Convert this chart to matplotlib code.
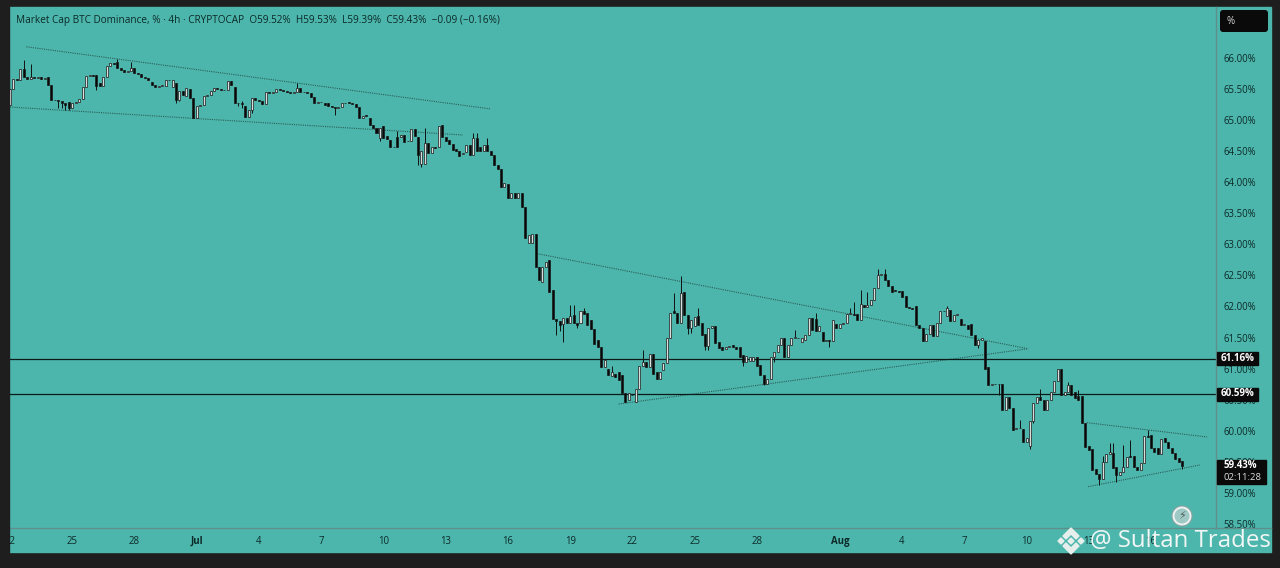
import matplotlib
matplotlib.use("Agg")
import matplotlib.pyplot as plt
from matplotlib.patches import Rectangle, Polygon, Circle, FancyBboxPatch

# values, one candle every 4h starting 22 Jun 00:00
opens = [
    65.24,65.50,65.66,65.65,65.83,65.69,65.66,65.70,65.68,65.70,
    65.66,65.70,65.57,65.33,65.32,65.30,65.28,65.29,65.20,65.28,
    65.29,65.34,65.54,65.71,65.72,65.73,65.60,65.55,65.69,65.87,
    65.92,65.93,65.84,65.80,65.77,65.79,65.84,65.75,65.74,65.70,
    65.68,65.62,65.56,65.54,65.55,65.55,65.64,65.53,65.59,65.33,
    65.47,65.38,65.50,65.35,65.03,65.22,65.24,65.39,65.40,65.47,
    65.51,65.50,65.49,65.48,65.63,65.54,65.27,65.28,65.23,65.05,
    65.17,65.35,65.32,65.30,65.26,65.46,65.43,65.46,65.50,65.48,
    65.47,65.45,65.43,65.46,65.52,65.46,65.46,65.43,65.37,65.27,
    65.29,65.28,65.27,65.23,65.21,65.19,65.21,65.28,65.29,65.27,
    65.26,65.21,65.03,65.08,65.04,64.92,64.88,64.71,64.90,64.75,
    64.68,64.57,64.72,64.72,64.76,64.67,64.67,64.85,64.73,64.30,
    64.30,64.63,64.47,64.56,64.56,64.92,64.73,64.68,64.62,64.54,
    64.50,64.46,64.49,64.60,64.44,64.71,64.57,64.50,64.60,64.51,
    64.44,64.28,64.22,63.92,63.97,63.74,63.82,63.74,63.82,63.60,
    63.02,63.02,63.17,62.64,62.40,62.64,62.75,62.26,61.80,61.76,
    61.72,61.81,61.73,61.86,61.73,61.73,61.92,61.89,61.78,61.64,
    61.46,61.35,61.02,61.00,60.88,60.92,60.94,60.90,60.60,60.50,
    60.58,60.47,60.68,61.04,61.11,61.02,61.24,60.95,60.83,60.97,
    61.09,61.50,61.92,61.89,61.74,62.24,61.86,61.65,61.68,61.84,
    61.73,61.56,61.36,61.65,61.69,61.43,61.34,61.31,61.35,61.38,
    61.34,61.34,61.22,61.11,61.13,61.13,61.18,61.06,60.90,60.75,
    60.84,61.18,61.27,61.38,61.50,61.19,61.38,61.49,61.50,61.43,
    61.46,61.54,61.81,61.80,61.60,61.59,61.45,61.46,61.45,61.72,
    61.66,61.72,61.73,61.88,61.88,61.88,61.79,62.02,61.99,62.02,
    62.11,62.29,62.50,62.53,62.43,62.33,62.26,62.25,62.25,62.17,
    61.99,61.97,62.00,61.70,61.65,61.45,61.56,61.70,61.52,61.73,
    61.92,61.85,61.95,61.77,61.86,61.80,61.70,61.70,61.72,61.54,
    61.38,61.46,61.45,61.02,60.73,60.76,60.75,60.76,60.33,60.55,
    60.36,60.03,60.04,60.03,59.82,59.75,60.16,60.44,60.55,60.49,
    60.33,60.49,60.63,60.80,61.00,60.58,60.62,60.73,60.63,60.56,
    60.56,60.13,59.75,59.70,59.39,59.31,59.23,59.50,59.62,59.65,
    59.41,59.29,59.33,59.41,59.60,59.60,59.41,59.37,59.48,59.92,
    59.93,59.72,59.73,59.63,59.88,59.82,59.73,59.64,59.56,59.52,
]
closes = [
    65.50,65.66,65.65,65.83,65.69,65.66,65.70,65.68,65.70,65.66,
    65.68,65.57,65.33,65.32,65.30,65.28,65.24,65.20,65.28,65.29,
    65.34,65.54,65.71,65.72,65.71,65.55,65.55,65.69,65.87,65.92,
    65.90,65.84,65.80,65.77,65.79,65.84,65.75,65.74,65.70,65.68,
    65.64,65.56,65.54,65.55,65.56,65.64,65.65,65.64,65.33,65.47,
    65.40,65.51,65.35,65.03,65.22,65.24,65.39,65.40,65.47,65.51,
    65.50,65.49,65.48,65.63,65.57,65.27,65.28,65.26,65.05,65.17,
    65.35,65.32,65.30,65.26,65.46,65.43,65.46,65.50,65.48,65.47,
    65.45,65.43,65.46,65.52,65.46,65.46,65.43,65.37,65.27,65.29,
    65.29,65.25,65.23,65.21,65.19,65.21,65.28,65.28,65.27,65.26,
    65.21,65.03,65.07,65.06,64.92,64.88,64.80,64.87,64.71,64.69,
    64.57,64.56,64.56,64.76,64.65,64.67,64.85,64.74,64.44,64.51,
    64.63,64.47,64.56,64.55,64.90,64.73,64.67,64.62,64.52,64.50,
    64.42,64.47,64.60,64.44,64.71,64.51,64.50,64.60,64.51,64.44,
    64.28,64.22,63.92,63.98,63.74,63.82,63.74,63.82,63.60,63.10,
    63.15,63.17,62.64,62.43,62.64,62.72,62.24,61.80,61.76,61.70,
    61.81,61.73,61.85,61.73,61.70,61.92,61.88,61.70,61.64,61.39,
    61.35,61.02,61.14,60.90,60.94,60.86,60.82,60.60,60.47,60.60,
    60.58,60.68,61.04,61.11,61.02,61.24,60.92,60.83,60.95,61.09,
    61.50,61.90,61.89,61.74,62.21,61.86,61.65,61.78,61.83,61.70,
    61.54,61.36,61.65,61.68,61.41,61.33,61.30,61.35,61.37,61.34,
    61.31,61.19,61.11,61.20,61.19,61.18,61.04,60.90,60.75,60.84,
    61.18,61.27,61.38,61.49,61.19,61.38,61.49,61.51,61.49,61.50,
    61.54,61.81,61.62,61.60,61.68,61.45,61.46,61.44,61.79,61.66,
    61.72,61.73,61.88,61.90,61.87,61.78,62.04,61.99,62.02,62.10,
    62.29,62.50,62.53,62.43,62.33,62.24,62.25,62.24,62.16,61.99,
    61.97,61.96,61.70,61.65,61.45,61.56,61.70,61.52,61.73,61.92,
    61.93,61.97,61.77,61.86,61.88,61.70,61.72,61.63,61.54,61.38,
    61.46,61.50,61.00,60.73,60.76,60.75,60.76,60.33,60.55,60.36,
    60.01,60.04,60.04,59.82,59.89,60.16,60.44,60.55,60.49,60.33,
    60.49,60.63,60.80,61.00,60.58,60.62,60.73,60.58,60.52,60.50,
    60.12,59.74,59.69,59.37,59.31,59.23,59.50,59.62,59.66,59.40,
    59.29,59.33,59.41,59.58,59.57,59.42,59.37,59.48,59.92,59.90,
    59.72,59.66,59.63,59.86,59.82,59.73,59.64,59.55,59.50,59.43,
]
# only the wicks that stick out, bar index -> price
high_wicks = {
    4: 65.97, 6: 65.90, 31: 65.98, 35: 65.94, 67: 65.30, 83: 65.60, 112: 64.83,
    120: 64.87, 134: 64.79, 135: 64.79, 138: 64.71, 162: 62.03, 163: 62.03,
    166: 61.97, 174: 61.04, 183: 61.30, 192: 62.21, 194: 62.49, 199: 61.97,
    227: 61.62, 233: 61.89, 243: 61.98, 244: 62.08, 246: 62.26, 248: 62.24,
    251: 62.61, 253: 62.61, 271: 62.00, 292: 60.17, 298: 60.67, 306: 60.79,
    309: 60.66, 316: 59.59, 318: 59.80, 319: 59.80, 322: 59.77, 324: 59.85,
    329: 60.01, 338: 59.53,
}
low_wicks = {
    14: 65.19, 15: 65.19, 16: 65.17, 17: 65.16, 25: 65.49, 48: 65.27, 49: 65.30,
    66: 65.22, 67: 65.19, 70: 65.11, 94: 65.08, 107: 64.67, 118: 64.28, 119: 64.25,
    158: 61.54, 159: 61.60, 160: 61.43, 164: 61.66, 196: 61.56, 197: 61.57,
    201: 61.30, 202: 61.30, 212: 61.05, 218: 60.73, 221: 61.11, 237: 61.34,
    280: 61.33, 286: 60.58, 295: 59.71, 296: 60.12, 309: 60.50, 315: 59.13,
    320: 59.18, 339: 59.39,
}

price_ticks = [66.0, 65.5, 65.0, 64.5, 64.0, 63.5, 63.0, 62.5, 62.0, 61.5, 61.0,
               60.5, 60.0, 59.5, 59.0, 58.5]
date_ticks = [0, 18, 36, 54, 72, 90, 108, 126, 144, 162, 180, 198, 216, 240, 258, 276, 294, 312, 330]
date_labels = ["22", "25", "28", "Jul", "4", "7", "10", "13", "16", "19", "22", "25", "28",
               "Aug", "4", "7", "10", "13", "16"]
levels = [61.16, 60.59]
# trendlines as (bar, price) end points
trendlines = [
    ((4.7, 66.18), (138.9, 65.18)),
    ((0.0, 65.21), (131.0, 64.76)),
    ((152.5, 62.85), (294.5, 61.32)),
    ((176.0, 60.43), (294.5, 61.32)),
    ((311.5, 60.13), (346.2, 59.90)),
    ((311.8, 59.10), (344.2, 59.45)),
]

TEAL = "#4db6ac"
FRAME = "#1e1e1e"
TXT = "#0c2a28"

plt.rcParams["font.family"] = ["Open Sans", "DejaVu Sans"]

fig = plt.figure(figsize=(12.8, 5.68), dpi=100, facecolor=FRAME)
fig.add_artist(Rectangle((9 / 1280, 1 - 552 / 568), 1262 / 1280, 545 / 568,
                         transform=fig.transFigure, color=TEAL, zorder=-1))

ax = fig.add_axes([10 / 1280, 1 - 528 / 568, 1206 / 1280, 521 / 568], facecolor="none")
ax.set_xlim(0.07, 348.8)
ax.set_ylim(58.435, 66.82)

for i, (o, c) in enumerate(zip(opens, closes)):
    hi = high_wicks.get(i, max(o, c))
    lo = low_wicks.get(i, min(o, c))
    ax.vlines(i, lo, hi, color="#111111", lw=0.7, zorder=3)
    up = c >= o
    ax.bar(i, abs(c - o), bottom=min(o, c), width=0.58,
           facecolor="#d9dedd" if up else "#080808", edgecolor="#1a1a1a", lw=0.5, zorder=4)

for p0, p1 in trendlines:
    ax.plot([p0[0], p1[0]], [p0[1], p1[1]], color="#2a5f5a", lw=0.8, ls=(0, (1, 1)), zorder=2)
for lv in levels:
    ax.axhline(lv, color="#0c1a19", lw=0.9, zorder=2)

ax.yaxis.tick_right()
ax.set_yticks(price_ticks)
ax.set_yticklabels([f"{p:.2f}%" for p in price_ticks], fontsize=6.9, color=TXT)
ax.set_xticks(date_ticks)
ax.set_xticklabels(date_labels, fontsize=6.9, color=TXT)
for lab in ax.get_xticklabels():
    if lab.get_text() in ("Jul", "Aug"):
        lab.set_fontweight("bold")
ax.tick_params(axis="both", length=0, pad=5.5)
for s in ("top", "left"):
    ax.spines[s].set_visible(False)
for s in ("right", "bottom"):
    ax.spines[s].set_color("#5f8f8a")
    ax.spines[s].set_linewidth(1.0)

# everything on top of the chart, in picture pixels
ov = fig.add_axes([0, 0, 1, 1], facecolor="none", zorder=5)
ov.set_xlim(0, 1280)
ov.set_ylim(568, 0)
ov.axis("off")
ov.add_patch(Rectangle((0, 0), 9, 568, color=FRAME))
ov.plot([1216, 1271], [528, 528], color="#5f8f8a", lw=1.0)

ov.text(16, 20, "Market Cap BTC Dominance, % · 4h · CRYPTOCAP  O59.52%  H59.53%  L59.39%  C59.43%  −0.09 (−0.16%)",
        fontsize=7.2, color=TXT, va="center", ha="left")

ov.add_patch(FancyBboxPatch((1220, 10), 48, 22, boxstyle="round,pad=0,rounding_size=3", fc="#0a0a0a", ec="none"))
ov.text(1231, 21, "%", fontsize=7, color="#d8d8d8", ha="center", va="center")

for lv, y in zip(levels, (358.7, 394)):
    ov.add_patch(Rectangle((1217, y - 6.5), 41, 13, color="#0a0a0a"))
    ov.text(1237.5, y, f"{lv:.2f}%", fontsize=7, color="white", fontweight="bold", ha="center", va="center")
ov.add_patch(Rectangle((1217, 460), 49, 24, color="#0a0a0a"))
ov.text(1224, 466, "59.43%", fontsize=7, color="white", fontweight="bold", ha="left", va="center")
ov.text(1224, 478, "02:11:28", fontsize=6.8, color="#dddddd", ha="left", va="center")

ov.add_patch(Circle((1182, 516), 10, fc="#eef2f2", ec="#8aa5a2", lw=0.8))
ov.add_patch(Circle((1182, 516), 7.5, fc="#9fc9c4", ec="none"))
ov.text(1182, 516, "\u26a1", fontsize=8, color="#4d5e5c", ha="center", va="center", family="DejaVu Sans")

# watermark, the small diamond mark and the name
mark = "#e7efed"
cx, cy = 1071, 541
ov.add_patch(Polygon([(cx, cy - 13), (cx + 8, cy - 5), (cx + 5, cy - 2), (cx, cy - 7), (cx - 5, cy - 2), (cx - 8, cy - 5)], color=mark))
ov.add_patch(Polygon([(cx, cy + 13), (cx + 8, cy + 5), (cx + 5, cy + 2), (cx, cy + 7), (cx - 5, cy + 2), (cx - 8, cy + 5)], color=mark))
ov.add_patch(Polygon([(cx - 3, cy), (cx, cy - 3), (cx + 3, cy), (cx, cy + 3)], color=mark))
ov.add_patch(Polygon([(cx - 13, cy), (cx - 10, cy - 3), (cx - 7, cy), (cx - 10, cy + 3)], color=mark))
ov.add_patch(Polygon([(cx + 13, cy), (cx + 10, cy - 3), (cx + 7, cy), (cx + 10, cy + 3)], color=mark))
ov.text(1090, 541, "@ Sultan Trades", fontsize=17.3, color="#f2f6f5", ha="left", va="center")

assert len(opens) == len(closes) == 340
fig.savefig("out.png", dpi=100, facecolor=fig.get_facecolor())
